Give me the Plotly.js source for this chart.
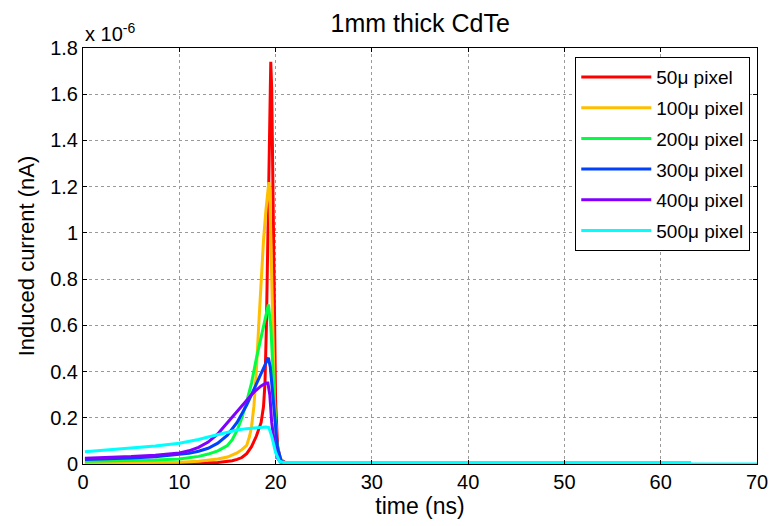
<!DOCTYPE html>
<html>
<head>
<meta charset="utf-8">
<script src="https://cdn.plot.ly/plotly-3.0.1.min.js"></script>
<style>html,body{margin:0;padding:0;background:#fff;}#chart{width:771px;height:526px;}</style>
</head>
<body>
<div id="chart"></div>
<script>
// values in units of 1e-6 nA, time in ns
const seriesNames = ["50\u03bc pixel", "100\u03bc pixel", "200\u03bc pixel", "300\u03bc pixel", "400\u03bc pixel", "500\u03bc pixel"];
const seriesColors = ["#ff0000", "#ffbf00", "#00ff40", "#0040ff", "#8000ff", "#00ffff"];

const t50 = [0.2,5,10,13,14,15,15.5,16,16.5,17,17.5,18,18.5,18.75,18.9,19.05,19.2,19.35,19.45,19.5,19.6,19.75,19.9,20.0,20.2,20.5,21,30,40,50,63];
const v50 = [0.002,0.002,0.003,0.005,0.007,0.01,0.014,0.02,0.028,0.045,0.075,0.12,0.18,0.25,0.35,0.6,1.0,1.45,1.7,1.74,1.62,1.2,0.6,0.28,0.08,0.02,0.006,0.006,0.006,0.006,0.006];

const t100 = [0.2,5,10,12,13,14,15,15.5,16,16.5,17,17.3,17.5,17.75,18,18.25,18.5,18.75,19.0,19.2,19.3,19.4,19.5,19.7,19.9,20.1,20.4,20.8,21,63];
const v100 = [0.004,0.005,0.008,0.012,0.016,0.022,0.03,0.038,0.048,0.062,0.08,0.12,0.16,0.25,0.4,0.6,0.8,0.97,1.1,1.19,1.22,1.18,1.0,0.6,0.25,0.1,0.03,0.008,0.006,0.006];

const t200 = [0.2,5,7.5,10,11,12,13,14,15,15.5,16,16.5,17,17.5,18,18.5,19.0,19.25,19.5,19.7,19.9,20.1,20.4,20.7,21,63];
const v200 = [0.012,0.014,0.017,0.022,0.027,0.033,0.043,0.057,0.08,0.105,0.145,0.2,0.27,0.35,0.455,0.55,0.64,0.69,0.6,0.42,0.22,0.1,0.03,0.008,0.006,0.006];

const t300 = [0.2,2.5,5,7.5,10,11,12,13,14,15,16,16.5,17,17.5,18,18.5,19.0,19.25,19.45,19.7,19.9,20.2,20.6,21,63];
const v300 = [0.02,0.022,0.026,0.031,0.04,0.046,0.055,0.068,0.09,0.125,0.18,0.215,0.255,0.3,0.345,0.39,0.43,0.46,0.42,0.3,0.18,0.07,0.012,0.006,0.006];

const t400 = [0.2,2.5,5,7.5,10,11,12,13,14,14.5,15,15.5,16,16.5,17,17.5,18,18.5,19.0,19.2,19.4,19.6,19.9,20.2,20.5,21,63];
const v400 = [0.025,0.028,0.032,0.038,0.048,0.057,0.072,0.095,0.13,0.155,0.18,0.205,0.23,0.255,0.278,0.3,0.32,0.338,0.35,0.35,0.3,0.18,0.08,0.025,0.008,0.006,0.006];

const t500 = [0.2,2.5,5,7.5,10,11,12,13,14,15,16,17,18,19,19.3,19.6,20.0,20.4,20.8,21,63,63.01,70];
const v500 = [0.053,0.06,0.068,0.078,0.09,0.097,0.106,0.117,0.128,0.138,0.147,0.153,0.157,0.16,0.158,0.12,0.05,0.012,0.007,0.007,0.007,0,0];

const xTickVals = [0,10,20,30,40,50,60,70];
const yTickVals = [0,0.2,0.4,0.6,0.8,1,1.2,1.4,1.6,1.8];

const tsAll = [t50,t100,t200,t300,t400,t500];
const vsAll = [v50,v100,v200,v300,v400,v500];

const traces = tsAll.map((t,i) => ({
  x: t, y: vsAll[i], type: 'scatter', mode: 'lines',
  name: seriesNames[i], legendgroup: 'g'+i,
  line: {color: seriesColors[i], width: 3}
}));

const font = "Liberation Sans, Arial, sans-serif";
const layout = {
  width: 771, height: 526,
  margin: {l: 83, r: 14, t: 48, b: 62},
  paper_bgcolor: '#fff', plot_bgcolor: '#fff',
  font: {family: font, size: 20, color: '#000'},
  title: {text: '1mm thick CdTe', font: {family: font, size: 25, color: '#000'}, x: 0.545, xanchor: 'center', y: 0.955, yanchor: 'middle'},
  showlegend: true,
  legend: {x: 0.99, xanchor: 'right', y: 0.978, yanchor: 'top', bgcolor: '#fff', bordercolor: '#000', borderwidth: 1,
           font: {family: font, size: 19, color: '#000'}, tracegroupgap: 3, itemwidth: 70},
  xaxis: {range: [0,70], tickvals: xTickVals, ticktext: xTickVals.map(String), ticks: 'inside', ticklen: 4, tickcolor: '#000',
          showline: true, linecolor: '#000', linewidth: 1, mirror: 'ticks', showgrid: true, gridcolor: '#9a9a9a', griddash: 'dot', gridwidth: 1,
          zeroline: false, tickfont: {size: 20},
          title: {text: 'time (ns)', font: {size: 23}, standoff: 5}},
  yaxis: {range: [0,1.8], tickvals: yTickVals, ticktext: yTickVals.map(String), ticks: 'inside', ticklen: 4, tickcolor: '#000',
          showline: true, linecolor: '#000', linewidth: 1, mirror: 'ticks', showgrid: true, gridcolor: '#9a9a9a', griddash: 'dot', gridwidth: 1,
          zeroline: false, tickfont: {size: 20},
          title: {text: 'Induced current (nA)', font: {size: 22}, standoff: 9}},
  annotations: [{xref: 'paper', yref: 'paper', x: 0, y: 1, xanchor: 'left', yanchor: 'bottom', yshift: 1, showarrow: false,
                 text: 'x 10<sup>-6</sup>', font: {family: font, size: 20, color: '#000'}}]
};

Plotly.newPlot('chart', traces, layout, {staticPlot: true, displayModeBar: false});
</script>
</body>
</html>
